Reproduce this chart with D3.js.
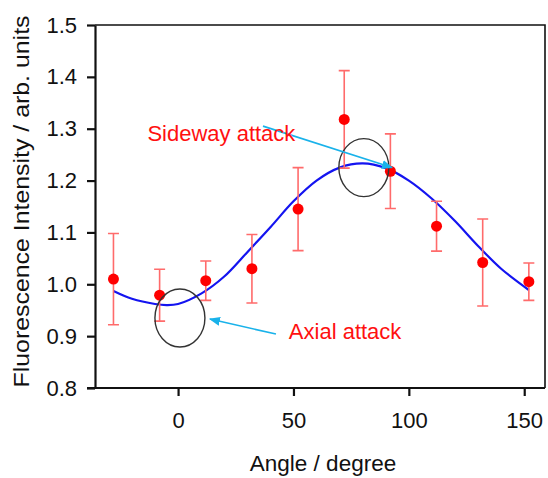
<!DOCTYPE html>
<meta charset="utf-8">
<style>
body { margin: 0; background: #fff; }
svg { display: block; font-family: "Liberation Sans", Arial, sans-serif; }
.tick text { font-size: 22px; fill: #111; }
.axisTitle { font-size: 22.5px; fill: #111; }
.note { font-size: 22px; fill: #ff1010; }
</style>
<svg width="548" height="478"></svg>
<script src="https://cdn.jsdelivr.net/npm/d3@7"></script>
<script>

// measured points (angle in degree) with error bars
var angles    = [-28, -8, 12, 32, 52, 72, 92, 112, 132, 152];
var intensity = [1.010, 0.979, 1.007, 1.030, 1.145, 1.318, 1.218, 1.112, 1.042, 1.005];
var errors    = [0.088, 0.050, 0.038, 0.066, 0.080, 0.094, 0.072, 0.048, 0.084, 0.036];

// fitted blue curve
var fitAngles = [-28, -20, -10, -5, 0, 10, 20, 30, 40, 50, 60, 70, 80, 90, 100, 110, 120, 130, 140, 152];
var fitValues = [0.987, 0.972, 0.962, 0.960, 0.962, 0.982, 1.015, 1.062, 1.110, 1.160, 1.200, 1.225, 1.233, 1.224, 1.200, 1.165, 1.122, 1.074, 1.030, 0.989];

var xTicks = [0, 50, 100, 150];
var yTicks = [0.8, 0.9, 1.0, 1.1, 1.2, 1.3, 1.4, 1.5];

var svg = d3.select("svg"),
    margin = {top: 25, right: 3, bottom: 90, left: 95},
    width = +svg.attr("width") - margin.left - margin.right,
    height = +svg.attr("height") - margin.top - margin.bottom,
    g = svg.append("g").attr("transform", "translate(" + margin.left + "," + margin.top + ")");

var x = d3.scaleLinear().domain([-36, 159]).range([0, width]);
var y = d3.scaleLinear().domain([0.8, 1.5]).range([height, 0]);

// frame (top + right)
g.append("path")
    .attr("d", "M0,0H" + width + "V" + height)
    .attr("fill", "none")
    .attr("stroke", "#111")
    .attr("stroke-width", 1.6);

// axes
var xAxis = g.append("g")
    .attr("transform", "translate(0," + height + ")")
    .call(d3.axisBottom(x).tickValues(xTicks).tickSize(8).tickSizeOuter(0).tickPadding(16));
var yAxis = g.append("g")
    .call(d3.axisLeft(y).tickValues(yTicks).tickSize(8).tickSizeOuter(0).tickPadding(10)
      .tickFormat(d3.format(".1f")));

[xAxis, yAxis].forEach(function(a) {
  a.selectAll(".domain").attr("stroke", "#111").attr("stroke-width", 2.2);
  a.selectAll(".tick line").attr("stroke", "#111").attr("stroke-width", 2.2);
  a.attr("font-family", null).attr("font-size", null);
});
// bottom line extends under the 0.8 tick
xAxis.select(".domain").attr("d", "M-8,0H" + width);

svg.append("text")
    .attr("class", "axisTitle")
    .attr("text-anchor", "middle")
    .attr("x", 323)
    .attr("y", 471)
    .text("Angle / degree");

svg.append("text")
    .attr("class", "axisTitle")
    .attr("text-anchor", "middle")
    .attr("textLength", 372)
    .attr("lengthAdjust", "spacingAndGlyphs")
    .attr("transform", "translate(29,201.5) rotate(-90)")
    .text("Fluorescence Intensity / arb. units");

// fit curve
var line = d3.line()
    .x(function(d, i) { return x(fitAngles[i]); })
    .y(function(d) { return y(d); })
    .curve(d3.curveCatmullRom);
g.append("path")
    .datum(fitValues)
    .attr("d", line)
    .attr("fill", "none")
    .attr("stroke", "#1414f0")
    .attr("stroke-width", 2.2);

// error bars
var pts = angles.map(function(a, i) { return {a: a, v: intensity[i], e: errors[i]}; });
var eb = g.append("g").attr("stroke", "#ff6b6b").attr("stroke-width", 1.6).attr("fill", "none");
eb.selectAll("path")
  .data(pts)
  .enter().append("path")
    .attr("d", function(d) {
      var cx = x(d.a), t = y(d.v + d.e), b = y(d.v - d.e);
      return "M" + (cx - 5.5) + "," + t + "H" + (cx + 5.5) +
             "M" + cx + "," + t + "V" + b +
             "M" + (cx - 5.5) + "," + b + "H" + (cx + 5.5);
    });

g.append("g").selectAll("circle")
  .data(pts)
  .enter().append("circle")
    .attr("cx", function(d) { return x(d.a); })
    .attr("cy", function(d) { return y(d.v); })
    .attr("r", 5.5)
    .attr("fill", "#ff0000");

// annotations
svg.append("defs").append("marker")
    .attr("id", "head")
    .attr("viewBox", "0 0 10 10")
    .attr("refX", 9).attr("refY", 5)
    .attr("markerWidth", 7).attr("markerHeight", 7)
    .attr("orient", "auto")
  .append("path")
    .attr("d", "M0,1L10,5L0,9Z")
    .attr("fill", "#19b2ea");

g.selectAll("ellipse")
  .data([[80.5, 1.225], [0.8, 0.935]])
  .enter().append("ellipse")
    .attr("cx", function(d) { return x(d[0]); })
    .attr("cy", function(d) { return y(d[1]); })
    .attr("rx", 25)
    .attr("ry", 29)
    .attr("fill", "none")
    .attr("stroke", "#333")
    .attr("stroke-width", 1.4);

g.selectAll(".arrow")
  .data([[36.8, 1.305, 92.7, 1.225], [42.4, 0.904, 13.8, 0.933]])
  .enter().append("line")
    .attr("class", "arrow")
    .attr("x1", function(d) { return x(d[0]); })
    .attr("y1", function(d) { return y(d[1]); })
    .attr("x2", function(d) { return x(d[2]); })
    .attr("y2", function(d) { return y(d[3]); })
    .attr("stroke", "#19b2ea")
    .attr("stroke-width", 1.6)
    .attr("marker-end", "url(#head)");

g.append("text").attr("class", "note")
    .attr("x", x(-13.3)).attr("y", y(1.277))
    .text("Sideway attack");
g.append("text").attr("class", "note")
    .attr("x", x(48)).attr("y", y(0.895))
    .text("Axial attack");

</script>
